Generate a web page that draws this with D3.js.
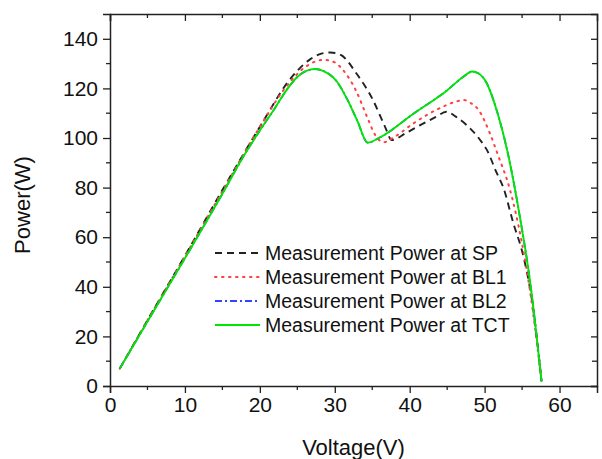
<!DOCTYPE html>
<html><head><meta charset="utf-8">
<script src="https://cdn.jsdelivr.net/npm/d3@7/dist/d3.min.js"></script>
<style>body{margin:0;background:#fff;} svg{display:block;font-family:"Liberation Sans",Arial,sans-serif;}</style>
</head><body>
<svg id="c" width="602" height="459"></svg>
<script>
// ---- data ----
const xTicks = [0, 10, 20, 30, 40, 50, 60];
const yTicks = [0, 20, 40, 60, 80, 100, 120, 140];
const seriesNames = ["Measurement Power at SP", "Measurement Power at BL1", "Measurement Power at BL2", "Measurement Power at TCT"];

const spV = [1.3, 5, 10, 15, 20.5, 23.6, 26.7, 28.2, 29.4, 30.8, 32.9, 35.1, 36.7, 37.6, 39.5, 41.4, 43.5, 44.9, 46.2, 47.6, 49.4, 50.3, 51.6, 52.5, 53.8, 55.2, 56.3, 57.6];
const spP = [7, 26.5, 52.5, 79, 107, 122, 131.7, 134, 134.5, 133.5, 126, 115.3, 104.6, 99.2, 102, 105.2, 108.5, 110.6, 108.5, 105.2, 99.2, 95.2, 86, 80, 66, 52, 35, 2];

const bl1V = [1.3, 5, 10, 15, 20, 23.6, 26, 28.5, 30, 31.1, 32.9, 34.3, 35.4, 36.5, 38, 40.5, 44, 46, 47.2, 48.2, 49.2, 50.7, 51.8, 53.4, 54.9, 56.1, 57.6];
const bl1P = [7, 26.5, 52.3, 78.5, 104.5, 121, 128.5, 131.5, 130.5, 127.4, 118.7, 108.6, 101.2, 98.3, 100.5, 105.9, 112, 114.5, 115.3, 114, 111.3, 101.9, 93, 79, 58.9, 37.5, 2];

const tctV = [1.3, 5, 10, 15, 17.8, 20, 22, 23.6, 24.9, 26.3, 27.4, 28.5, 30.3, 31.6, 33, 34.4, 36, 40.5, 44.9, 47.3, 48.3, 49.2, 50.3, 51.6, 53, 54.7, 56.1, 57.6];
const tctP = [7, 26, 51.5, 77.5, 92.5, 103, 112, 119.5, 124.3, 127.2, 127.8, 127, 122.7, 116, 107, 98.1, 100.2, 109.8, 119, 125, 126.8, 126, 122, 111.3, 95.2, 68.3, 41.4, 1.7];

const bl2V = tctV.slice();
const bl2P = tctP.slice();

// ---- layout ----
const L = 110, R = 597, T = 14, B = 386;
const svg = d3.select("#c");
const x = d3.scaleLinear().domain([0, 65]).range([L, R]);
const y = d3.scaleLinear().domain([0, 150]).range([B, T]);
const axisColor = "#222";

const series = [
  {name: seriesNames[0], v: spV, p: spP, color: "#222", dash: "7,5", w: 1.9, cap: "butt"},
  {name: seriesNames[1], v: bl1V, p: bl1P, color: "#ff4040", dash: "1.5,5.5", w: 2, cap: "round"},
  {name: seriesNames[2], v: bl2V, p: bl2P, color: "#3344ff", dash: "7,3,2,3", w: 1.8, cap: "butt"},
  {name: seriesNames[3], v: tctV, p: tctP, color: "#00e600", dash: null, w: 1.9, cap: "butt"}
];

const line = d3.line().x(d => x(d[0])).y(d => y(d[1])).curve(d3.curveMonotoneX);
series.forEach(s => {
  const pts = s.v.map((v, i) => [v, s.p[i]]);
  svg.append("path").attr("d", line(pts)).attr("fill", "none")
    .attr("stroke", s.color).attr("stroke-width", s.w)
    .attr("stroke-dasharray", s.dash).attr("stroke-linecap", s.cap);
});

// ---- axes ----
const fs = 21;
const xb = svg.append("g").attr("transform", `translate(0,${B})`)
  .call(d3.axisBottom(x).tickValues(xTicks).tickSize(7).tickPadding(4).tickFormat(d3.format("d")));
const yl = svg.append("g").attr("transform", `translate(${L},0)`)
  .call(d3.axisLeft(y).tickValues(yTicks).tickSize(7).tickPadding(5).tickFormat(d3.format("d")));
const xt = svg.append("g").attr("transform", `translate(0,${T})`)
  .call(d3.axisTop(x).tickValues(xTicks).tickSize(-7).tickFormat(""));
const yr = svg.append("g").attr("transform", `translate(${R},0)`)
  .call(d3.axisRight(y).tickValues(yTicks).tickSize(-6).tickFormat(""));
[xb, yl, xt, yr].forEach(g => {
  g.select(".domain").attr("stroke", axisColor).attr("stroke-width", 1.5);
  g.selectAll(".tick line").attr("stroke", axisColor).attr("stroke-width", 1.3);
  g.selectAll(".tick text").attr("fill", "#111").style("font-size", fs + "px").style("font-family", '"Liberation Sans",Arial,sans-serif');
});
// minor ticks
const xMinor = d3.range(5, 65, 10);
const yMinor = d3.range(10, 150, 20);
svg.append("g").selectAll("line").data(xMinor).join("line")
  .attr("x1", d => x(d)).attr("x2", d => x(d)).attr("y1", B).attr("y2", B + 4)
  .attr("stroke", axisColor).attr("stroke-width", 1.3);
svg.append("g").selectAll("line").data(xMinor).join("line")
  .attr("x1", d => x(d)).attr("x2", d => x(d)).attr("y1", T).attr("y2", T + 4)
  .attr("stroke", axisColor).attr("stroke-width", 1.3);
svg.append("g").selectAll("line").data(yMinor).join("line")
  .attr("x1", L - 4).attr("x2", L).attr("y1", d => y(d)).attr("y2", d => y(d))
  .attr("stroke", axisColor).attr("stroke-width", 1.3);
svg.append("g").selectAll("line").data(yMinor).join("line")
  .attr("x1", R - 5).attr("x2", R).attr("y1", d => y(d)).attr("y2", d => y(d))
  .attr("stroke", axisColor).attr("stroke-width", 1.3);

// axis titles
svg.append("text").attr("x", (L + R) / 2).attr("y", 455).attr("text-anchor", "middle")
  .style("font-size", "22px").attr("fill", "#111").text("Voltage(V)");
svg.append("text").attr("transform", `translate(30,${(T + B) / 2 + 5}) rotate(-90)`).attr("text-anchor", "middle")
  .style("font-size", "22px").attr("fill", "#111").text("Power(W)");

// legend
const legY = [253, 277, 301, 325];
const lg = svg.append("g");
series.forEach((s, i) => {
  lg.append("line").attr("x1", 215).attr("x2", 260).attr("y1", legY[i]).attr("y2", legY[i])
    .attr("stroke", s.color).attr("stroke-width", s.w).attr("stroke-dasharray", s.dash)
    .attr("stroke-linecap", s.cap);
  lg.append("text").attr("x", 265).attr("y", legY[i] + 7).style("font-size", "19.5px").attr("fill", "#111").text(s.name);
});
</script>
</body></html>
